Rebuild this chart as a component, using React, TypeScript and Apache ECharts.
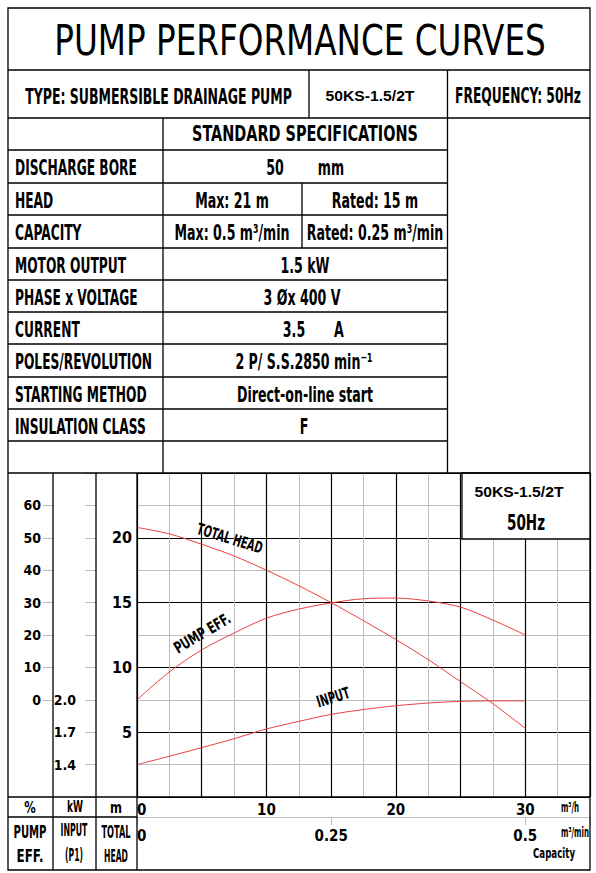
import React, { useEffect, useRef } from "react";
import * as echarts from "echarts";

// curve data, capacity in m³/h
const flowM3h = [0, 2.5, 5, 7.5, 10, 12.5, 15, 17.5, 20, 22.5, 25, 27.5, 30];
const totalHeadM = [20.8, 20.3, 19.5, 18.6, 17.5, 16.3, 15.0, 13.6, 12.15, 10.6, 8.9, 7.2, 5.3];
const pumpEffPct = [0, 8.6, 15.4, 20.6, 25.2, 28.0, 29.9, 31.2, 31.4, 30.5, 28.6, 24.6, 20.0];
const inputKW = [1.4, 1.477, 1.557, 1.64, 1.73, 1.8, 1.865, 1.91, 1.945, 1.97, 1.985, 1.99, 1.99];

// tick labels
const flowTicks = [0, 10, 20, 30];
const flowMinTicks = [0, 0.25, 0.5];
const headTicks = [5, 10, 15, 20];
const kwLabelTicks = [1.4, 1.7, 2.0];

// spec sheet
const specLabels = [
  "DISCHARGE BORE",
  "HEAD",
  "CAPACITY",
  "MOTOR OUTPUT",
  "PHASE x VOLTAGE",
  "CURRENT",
  "POLES/REVOLUTION",
  "STARTING METHOD",
  "INSULATION CLASS",
];
const specValues = [
  ["50", "mm"],
  ["Max: 21 m", "Rated: 15 m"],
  ["Max: 0.5 m³/min", "Rated: 0.25 m³/min"],
  ["1.5 kW"],
  ["3 Øx 400 V"],
  ["3.5", "A"],
  ["2 P/ S.S.2850 min⁻¹"],
  ["Direct-on-line start"],
  ["F"],
];

const NARROW = '"Liberation Sans Narrow", "Arial Narrow", "DejaVu Sans Condensed", "Liberation Sans", sans-serif';
const ARIAL = '"Liberation Sans", Arial, sans-serif';
const RED = "#e8403f";
const GRID_GRAY = "#bdbdbd";

export default function App() {
  const ref = useRef<HTMLDivElement>(null);

  useEffect(() => {
    document.body.style.margin = "0";
    if (!ref.current) return;
    const chart = echarts.init(ref.current, undefined, { renderer: "svg" });

    const ctx = document.createElement("canvas").getContext("2d")!;
    const measure = (s: string, font: string) => {
      ctx.font = font;
      return ctx.measureText(s).width;
    };

    type TOpt = { w?: number; sx?: number; align?: string; rot?: number; weight?: string; family?: string };
    const text = (s: string, x: number, y: number, size: number, o: TOpt = {}) => {
      const font = `${o.weight ?? "bold"} ${size}px ${o.family ?? NARROW}`;
      const sx = o.w ? o.w / measure(s, font) : o.sx ?? 1;
      const align = o.align ?? "center";
      return {
        type: "text",
        silent: true,
        z: 30,
        x,
        y,
        rotation: o.rot ?? 0,
        scaleX: sx,
        style: {
          text: s,
          font,
          fill: "#000",
          align,
          verticalAlign: "middle",
          textAlign: align,
          textVerticalAlign: "middle",
        },
      };
    };
    const line = (x1: number, y1: number, x2: number, y2: number, color = "#000") => ({
      type: "line",
      silent: true,
      z: 25,
      shape: { x1, y1, x2, y2 },
      style: { stroke: color, lineWidth: 1.3 },
    });

    // table geometry
    const L = 8;
    const R = 590;
    const rowY = [150, 183, 215, 248, 280, 312, 344, 377, 409, 441, 473];
    const specSize = 22;
    const specFont = `bold ${specSize}px ${NARROW}`;
    const labelSx = 122 / measure("DISCHARGE BORE", specFont);
    const valueSx = 136 / measure("Direct-on-line start", specFont);
    const valueXs: number[][] = [[275, 331], [232, 375], [232, 375], [305], [302], [294, 339], [304], [305], [304]];

    const graphic: any[] = [
      { type: "rect", silent: true, z: 24, shape: { x: L, y: 8, width: R - L, height: 862 }, style: { fill: "none", stroke: "#000", lineWidth: 1.3 } },
      { type: "rect", silent: true, z: 24, shape: { x: 462, y: 473, width: 128, height: 66 }, style: { fill: "#fff", stroke: "#000", lineWidth: 1.3 } },
      line(L, 70, R, 70),
      line(L, 118, R, 118),
      line(309, 70, 309, 118),
      line(447.5, 70, 447.5, 473),
      line(163, 118, 163, 473),
      line(302, 183, 302, 248),
      line(L, 473, R, 473),
      line(L, 797, R, 797),
      line(L, 817, 137, 817),
      line(53, 473, 53, 870),
      line(96, 473, 96, 870),
      line(137, 473, 137, 870),
      ...rowY.slice(0, -1).map((y) => line(L, y, 447.5, y)),
      text("PUMP PERFORMANCE CURVES", 300, 40, 43, { weight: "normal", w: 492 }),
      text("TYPE: SUBMERSIBLE DRAINAGE PUMP", 158.5, 96, 21, { w: 267 }),
      text("50KS-1.5/2T", 370, 96, 14, { family: ARIAL, w: 89 }),
      text("FREQUENCY: 50Hz", 518, 96, 21, { w: 126 }),
      text("STANDARD SPECIFICATIONS", 305, 134, 22, { w: 226 }),
    ];

    specLabels.forEach((lab, i) => {
      const y = (rowY[i] + rowY[i + 1]) / 2 + 1;
      graphic.push(text(lab, 15, y, specSize, { align: "left", sx: labelSx }));
      specValues[i].forEach((v, j) => graphic.push(text(v, valueXs[i][j], y, specSize, { sx: valueSx })));
    });

    graphic.push(
      text("50KS-1.5/2T", 519, 492, 15, { family: ARIAL, w: 89 }),
      text("50Hz", 526, 522, 22, { w: 38 }),
      text("%", 30, 807, 16, { sx: 0.8 }),
      text("kW", 75, 807, 16, { w: 16 }),
      text("m", 116, 807, 16, { sx: 0.8 }),
      text("PUMP", 30, 832, 18, { w: 33 }),
      text("EFF.", 30, 856, 18, { w: 27 }),
      text("INPUT", 74, 830, 18, { w: 27 }),
      text("(P1)", 74, 855, 18, { w: 18 }),
      text("TOTAL", 116, 832, 18, { w: 29 }),
      text("HEAD", 116, 856, 18, { w: 24 }),
      text("m³/h", 561, 807, 14, { align: "left", w: 18 }),
      text("m³/min", 561, 832, 14, { align: "left", w: 28 }),
      text("Capacity", 554, 853, 14, { w: 42 }),
      text("TOTAL HEAD", 230, 538, 16, { w: 68, rot: -0.3 }),
      text("PUMP EFF.", 202, 633, 16, { w: 63, rot: 0.54 }),
      text("INPUT", 333, 697, 16, { w: 34, rot: 0.3 })
    );

    const labelStyle = { color: "#000", fontFamily: NARROW, fontWeight: "bold" as const };
    const pairs = (ys: number[]) => flowM3h.map((q, i) => [q, ys[i]]);
    const curve = (name: string, xAxisIndex: number, yAxisIndex: number, ys: number[]) => ({
      name,
      type: "line",
      xAxisIndex,
      yAxisIndex,
      data: pairs(ys),
      smooth: 0.3,
      symbol: "none",
      silent: true,
      clip: false,
      lineStyle: { color: RED, width: 1 },
    });
    const hidden = (gridIndex: number, min = 0, max = 1) => ({ type: "value", gridIndex, min, max, show: false });
    // short gray tick marks drawn as split lines of a narrow grid
    const tickAxis = (gridIndex: number, min: number, max: number, interval: number) => ({
      type: "value",
      gridIndex,
      min,
      max,
      interval,
      axisLine: { show: false },
      axisTick: { show: false },
      axisLabel: { show: false },
      splitLine: { show: true, lineStyle: { color: GRID_GRAY, width: 1 } },
    });

    // head scale: 0..25 m over the full plot; efficiency 0..60 % lines up with 7.5..22.5 m
    const plotTop = 473;
    const plotH = 324;
    const effTop = plotTop + (plotH * 2.5) / 25;
    const effH = (plotH * 15) / 25;
    const noBounds = { containLabel: false, outerBoundsMode: "none" };

    chart.setOption({
      animation: false,
      grid: [
        { left: 137, right: 6, top: plotTop, height: plotH, ...noBounds },
        { left: 137, right: 6, top: effTop, height: effH, ...noBounds },
        { left: 43, width: 10, top: effTop, height: effH, ...noBounds },
        { left: 85, width: 11, top: plotTop, height: plotH, ...noBounds },
        { left: 137, right: 6, top: 817, height: 8, ...noBounds },
      ],
      xAxis: [
        {
          type: "value",
          gridIndex: 0,
          min: 0,
          max: 35,
          interval: 5,
          position: "bottom",
          axisLine: { show: false },
          axisTick: { show: false },
          axisLabel: { ...labelStyle, fontSize: 15, margin: 5, customValues: flowTicks, alignMinLabel: "left" },
          splitLine: { show: true, lineStyle: { color: "#000", width: 1.2 } },
          minorTick: { show: false, splitNumber: 2 },
          minorSplitLine: { show: true, lineStyle: { color: GRID_GRAY, width: 1 } },
        },
        {
          type: "value",
          gridIndex: 0,
          min: 0,
          max: 35 / 60,
          position: "bottom",
          offset: 20,
          axisLine: { show: true, lineStyle: { color: GRID_GRAY, width: 1.2 } },
          axisTick: { show: false },
          axisLabel: {
            ...labelStyle,
            fontSize: 15,
            margin: 11,
            customValues: flowMinTicks,
            alignMinLabel: "left",
            formatter: (v: number) => String(v),
          },
          splitLine: { show: false },
        },
        hidden(1, 0, 35),
        hidden(2),
        hidden(3),
        tickAxis(4, 0, 35 / 60, 0.25),
      ],
      yAxis: [
        {
          type: "value",
          gridIndex: 0,
          min: 0,
          max: 25,
          interval: 5,
          position: "left",
          axisLine: { show: false },
          axisTick: { show: false },
          axisLabel: { ...labelStyle, fontSize: 16, margin: 5, customValues: headTicks },
          splitLine: { show: true, lineStyle: { color: "#000", width: 1.2 } },
          minorTick: { show: false, splitNumber: 2 },
          minorSplitLine: { show: true, lineStyle: { color: GRID_GRAY, width: 1 } },
        },
        {
          type: "value",
          gridIndex: 1,
          min: 0,
          max: 60,
          interval: 10,
          position: "left",
          offset: 84,
          axisLine: { show: false },
          axisTick: { show: false },
          axisLabel: { ...labelStyle, fontSize: 14, margin: 12 },
          splitLine: { show: false },
        },
        {
          type: "value",
          gridIndex: 0,
          min: 1.1,
          max: 4.1,
          interval: 0.3,
          position: "left",
          offset: 41,
          axisLine: { show: false },
          axisTick: { show: false },
          axisLabel: {
            ...labelStyle,
            fontSize: 14,
            margin: 20,
            customValues: kwLabelTicks,
            formatter: (v: number) => v.toFixed(1),
          },
          splitLine: { show: false },
        },
        tickAxis(2, 0, 60, 10),
        tickAxis(3, 1.1, 4.1, 0.3),
        hidden(4),
      ],
      series: [
        curve("TOTAL HEAD", 0, 0, totalHeadM),
        curve("PUMP EFF.", 2, 1, pumpEffPct),
        curve("INPUT", 0, 2, inputKW),
      ],
      graphic,
    });

    return () => chart.dispose();
  }, []);

  return <div ref={ref} style={{ width: 596, height: 873, background: "#fff" }} />;
}
